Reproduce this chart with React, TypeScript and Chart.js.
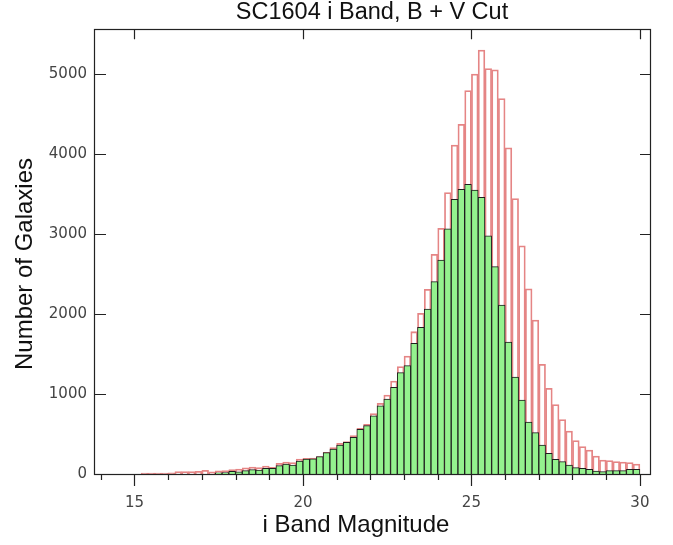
import { useEffect, useRef } from "react";
import { Chart, registerables } from "chart.js";

Chart.register(...registerables);

// bin centres (i band magnitude, 0.2 mag bins)
const binCenters = [
  15.3, 15.5, 15.7, 15.9, 16.1, 16.3, 16.5, 16.7, 16.9, 17.1,
  17.3, 17.5, 17.7, 17.9, 18.1, 18.3, 18.5, 18.7, 18.9, 19.1,
  19.3, 19.5, 19.7, 19.9, 20.1, 20.3, 20.5, 20.7, 20.9, 21.1,
  21.3, 21.5, 21.7, 21.9, 22.1, 22.3, 22.5, 22.7, 22.9, 23.1,
  23.3, 23.5, 23.7, 23.9, 24.1, 24.3, 24.5, 24.7, 24.9, 25.1,
  25.3, 25.5, 25.7, 25.9, 26.1, 26.3, 26.5, 26.7, 26.9, 27.1,
  27.3, 27.5, 27.7, 27.9, 28.1, 28.3, 28.5, 28.7, 28.9, 29.1,
  29.3, 29.5, 29.7, 29.9,
];

// all galaxies (red outline)
const allCounts = [
  12, 12, 12, 12, 14, 30, 30, 30, 32, 45,
  28, 40, 42, 55, 62, 78, 88, 80, 100, 82,
  133, 150, 142, 188, 196, 198, 217, 271, 329, 383,
  404, 479, 571, 621, 755, 883, 987, 1162, 1342, 1475,
  1779, 2008, 2308, 2746, 3071, 3519, 4112, 4371, 4792, 5000,
  5300, 5067, 5054, 4692, 4079, 3444, 2854, 2316, 1925, 1371,
  1071, 867, 680, 537, 417, 342, 300, 225, 175, 167,
  154, 150, 142, 125,
];

// after B + V cut (green filled)
const cutCounts = [
  0, 0, 0, 0, 0, 0, 0, 0, 0, 0,
  0, 15, 17, 33, 28, 42, 55, 50, 71, 71,
  104, 125, 112, 162, 188, 190, 217, 268, 312, 362,
  396, 458, 558, 604, 727, 852, 937, 1083, 1267, 1354,
  1633, 1833, 2062, 2404, 2675, 3065, 3433, 3558, 3621, 3548,
  3458, 2979, 2592, 2112, 1650, 1212, 925, 650, 517, 362,
  258, 183, 154, 112, 79, 71, 58, 37, 29, 42,
  42, 42, 58, 58,
];

const xMajorTicks = [15, 20, 25, 30];
const xMinorTicks = [14, 16, 17, 18, 19, 21, 22, 23, 24, 26, 27, 28, 29];
const yTicks = [0, 1000, 2000, 3000, 4000, 5000];

const titleText = "SC1604 i Band, B + V Cut";
const xTitle = "i Band Magnitude";
const yTitle = "Number of Galaxies";

const titleFont = "24px 'Liberation Sans', Arial, sans-serif";

const framePlugin = {
  id: "frameTicks",
  afterDatasetsDraw(chart: any) {
    const { ctx, chartArea: a, scales } = chart;
    const x = scales.x;
    const y = scales.y;
    const r = (v: number) => Math.round(v) + 0.5;
    ctx.save();
    ctx.strokeStyle = "#222";
    ctx.lineWidth = 1.2;
    ctx.strokeRect(r(a.left), r(a.top), Math.round(a.right) - Math.round(a.left), Math.round(a.bottom) - Math.round(a.top));
    ctx.beginPath();
    for (const v of xMajorTicks) {
      const px = r(x.getPixelForValue(v));
      ctx.moveTo(px, a.top);
      ctx.lineTo(px, a.top + 10);
      ctx.moveTo(px, a.bottom);
      ctx.lineTo(px, a.bottom + 12);
    }
    for (const v of xMinorTicks) {
      const px = r(x.getPixelForValue(v));
      ctx.moveTo(px, a.bottom);
      ctx.lineTo(px, a.bottom + 6);
    }
    for (const v of yTicks) {
      const py = r(y.getPixelForValue(v));
      ctx.moveTo(a.left, py);
      ctx.lineTo(a.left + 12, py);
      ctx.moveTo(a.right, py);
      ctx.lineTo(a.right - 10, py);
    }
    ctx.stroke();

    // axis titles
    ctx.fillStyle = "#111";
    ctx.font = titleFont;
    ctx.textAlign = "center";
    ctx.textBaseline = "middle";
    ctx.fillText(xTitle, 356, 525);
    ctx.translate(25, 264);
    ctx.rotate(-Math.PI / 2);
    ctx.fillText(yTitle, 0, 0);
    ctx.restore();
  },
};

export default function App() {
  const ref = useRef<HTMLCanvasElement | null>(null);

  useEffect(() => {
    if (!ref.current) return;
    const chart = new Chart(ref.current, {
      type: "bar",
      data: {
        datasets: [
          {
            label: "B + V Cut",
            data: binCenters.map((c, i) => ({ x: c, y: cutCounts[i] })),
            backgroundColor: "#94f28e",
            borderColor: "#1e1e1e",
            borderWidth: 1,
            grouped: false,
            order: 0,
            barPercentage: 1,
            categoryPercentage: 1,
          },
          {
            label: "All",
            data: binCenters.map((c, i) => ({ x: c, y: allCounts[i] })),
            backgroundColor: "rgba(255,255,255,0)",
            borderColor: "#e58585",
            borderWidth: 1.1,
            grouped: false,
            order: 1,
            barPercentage: 1,
            categoryPercentage: 1,
          },
        ],
      },
      options: {
        responsive: false,
        animation: false,
        devicePixelRatio: 1,
        layout: { padding: { left: 0, right: 23, top: 0, bottom: 0 } },
        plugins: {
          legend: { display: false },
          tooltip: { enabled: false },
          title: {
            display: true,
            text: titleText,
            fullSize: false,
            color: "#111",
            font: { family: "'Liberation Sans', Arial, sans-serif", size: 23.5, weight: "normal", lineHeight: 1.1 },
            padding: { top: 0, bottom: 3.4 },
          },
        },
        scales: {
          x: {
            type: "linear",
            min: 13.8,
            max: 30.3,
            offset: false,
            grid: { display: false, drawTicks: false },
            border: { display: false },
            afterBuildTicks: (s: any) => {
              s.ticks = xMajorTicks.map((v) => ({ value: v }));
            },
            afterFit: (s: any) => {
              s.height = 71;
            },
            ticks: {
              color: "#444",
              padding: 20,
              font: { family: "'DejaVu Sans', sans-serif", size: 15 },
              callback: (v: any) => String(v),
            },
            title: { display: false, text: xTitle },
          },
          y: {
            type: "linear",
            min: 0,
            max: 5560,
            grid: { display: false, drawTicks: false },
            border: { display: false },
            afterBuildTicks: (s: any) => {
              s.ticks = yTicks.map((v) => ({ value: v }));
            },
            afterFit: (s: any) => {
              s.width = 94;
            },
            ticks: {
              color: "#444",
              padding: 7,
              font: { family: "'DejaVu Sans', sans-serif", size: 15 },
              callback: (v: any) => String(v),
            },
            title: { display: false, text: yTitle },
          },
        },
      },
      plugins: [framePlugin],
    });
    return () => chart.destroy();
  }, []);

  return (
    <div style={{ position: "absolute", left: 0, top: 0, width: 673, height: 545, background: "#fff" }}>
      <canvas ref={ref} width={673} height={545} style={{ display: "block" }} />
    </div>
  );
}
